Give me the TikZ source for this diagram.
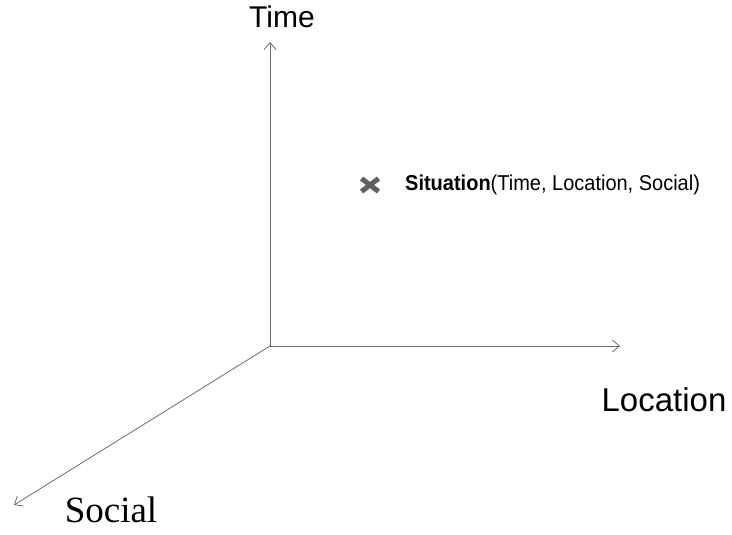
\documentclass[tikz,border=0pt]{standalone}
\usepackage{fontspec}
\setmainfont{Liberation Sans}
\newfontfamily\serifaxis{Liberation Serif}
\usetikzlibrary{arrows.meta}
\usetikzlibrary{shapes.misc}

\tikzset{
  axis/.style={draw=gray!85!black, line width=.8pt, -{Straight Barb[length=7pt,width=12pt]}},
  axislabel/.style={inner sep=0pt, font=\fontsize{30}{32}\selectfont},
  mark point/.style={cross out, draw=gray!75!black, line width=5pt, minimum width=12pt, minimum height=8pt, inner sep=0pt}
}

\begin{document}
\begin{tikzpicture}[x=1pt, y=-1pt]
\useasboundingbox (0,0) rectangle (732,535);
\coordinate (O) at (270,346);
\coordinate (timeEnd) at (270,42);
\coordinate (locEnd) at (620,346);
\coordinate (socEnd) at (14,505);
\draw[axis] (O) -- (timeEnd);
\draw[axis] (O) -- (locEnd);
\draw[axis] (O) -- (socEnd);
\node[axislabel] (time) at (282,17) {Time};
\node[axislabel, font=\fontsize{33}{35}\selectfont] (location) at (664,400) {Location};
\node[axislabel, font=\serifaxis\fontsize{37}{39}\selectfont] (social) at (111,510) {Social};
\node[mark point] (sit) at (370,185) {};
\node[anchor=west, inner sep=0pt, xscale=.93, font=\fontsize{21.5}{23}\selectfont] (sitlabel) at (405,185) {\textbf{Situation}(Time, Location, Social)};
\end{tikzpicture}
\end{document}
